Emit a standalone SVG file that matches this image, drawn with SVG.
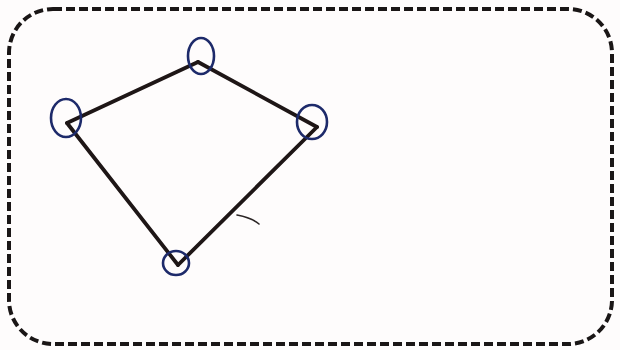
<svg xmlns="http://www.w3.org/2000/svg" width="620" height="350" viewBox="0 0 620 350">
  <style>
    .frame { fill: none; stroke: #1a1616; stroke-width: 4; stroke-dasharray: 9 4; }
    .edge { stroke: #1e1616; stroke-width: 3.8; stroke-linecap: round; fill: none; }
    .node ellipse { fill: none; stroke: #1d2a6a; stroke-width: 2.6; }
  </style>
  <rect x="0" y="0" width="620" height="350" fill="#fefcfc"/>
  <rect class="frame" x="9" y="9" width="603" height="335" rx="44" ry="44"/>
  <g id="connectors">
    <line class="edge" x1="67" y1="123" x2="198" y2="62"/>
    <line class="edge" x1="198" y1="62" x2="317" y2="127"/>
    <line class="edge" x1="317" y1="127" x2="178" y2="265"/>
    <line class="edge" x1="178" y1="265" x2="67" y2="123"/>
  </g>
  <path d="M237 215 Q252 218 259 224" fill="none" stroke="#2a2424" stroke-width="1.6" stroke-linecap="round"/>
  <g id="node-top" class="node"><ellipse cx="201" cy="56" rx="13" ry="18"/></g>
  <g id="node-left" class="node"><ellipse cx="66" cy="118" rx="15" ry="19"/></g>
  <g id="node-right" class="node"><ellipse cx="312" cy="122" rx="15" ry="17"/></g>
  <g id="node-bottom" class="node"><ellipse cx="176" cy="263" rx="13" ry="12"/></g>
</svg>
